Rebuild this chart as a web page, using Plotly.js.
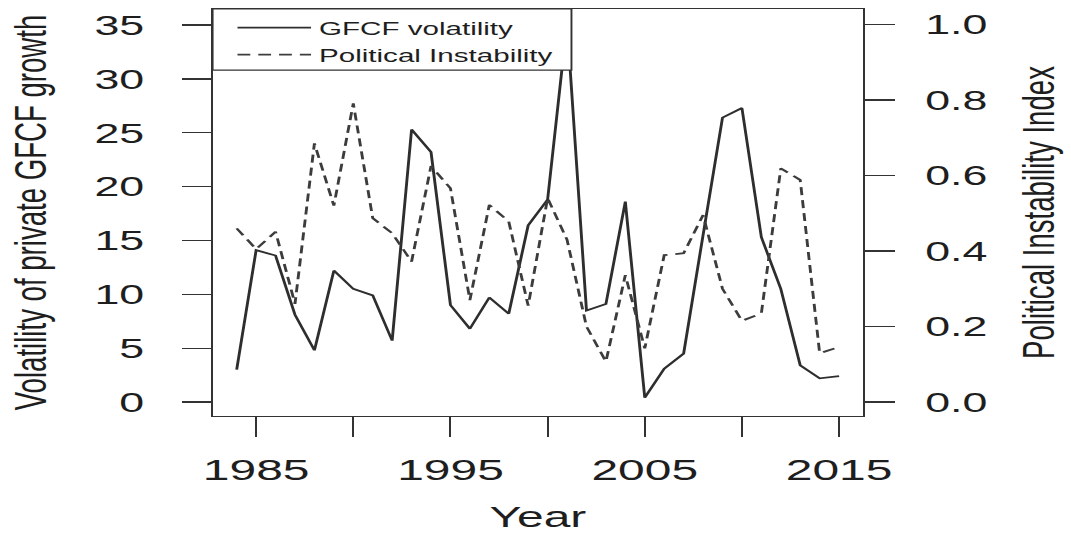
<!DOCTYPE html>
<html>
<head>
<meta charset="utf-8">
<script src="https://cdn.plot.ly/plotly-3.0.1.min.js"></script>
<style>
  html, body { margin: 0; padding: 0; background: #ffffff; }
  #wrap { width: 1071px; height: 538px; overflow: hidden; position: relative; }
  #plot { width: 670px; height: 538px; transform: scaleX(1.5985); transform-origin: 0 0; }
</style>
</head>
<body>
<div id="wrap"><div id="plot"></div></div>
<script>
// ---- data ----
const years = [1984, 1985, 1986, 1987, 1988, 1989, 1990, 1991, 1992, 1993, 1994, 1995,
               1996, 1997, 1998, 1999, 2000, 2001, 2002, 2003, 2004, 2005, 2006, 2007,
               2008, 2009, 2010, 2011, 2012, 2013, 2014, 2015];
const gfcfVolatility = [3.0, 14.1, 13.6, 8.1, 4.8, 12.2, 10.5, 9.9, 5.7, 25.3, 23.2, 9.0,
                        6.8, 9.7, 8.2, 16.4, 18.8, 35.2, 8.5, 9.1, 18.6, 0.4, 3.1, 4.5,
                        15.5, 26.4, 27.3, 15.3, 10.5, 3.4, 2.2, 2.4];
const politicalInstability = [0.46, 0.405, 0.451, 0.26, 0.685, 0.52, 0.791, 0.487, 0.447, 0.372, 0.625, 0.566,
                              0.27, 0.522, 0.478, 0.255, 0.54, 0.43, 0.2, 0.107, 0.336, 0.142, 0.389, 0.394,
                              0.495, 0.3, 0.215, 0.235, 0.619, 0.588, 0.129, 0.146];
const seriesNames = ["GFCF volatility", "Political Instability"];
const xTickVals = [1985, 1990, 1995, 2000, 2005, 2010, 2015];
const xTickText = ["1985", "", "1995", "", "2005", "", "2015"];
const yTickVals = [0, 5, 10, 15, 20, 25, 30, 35];
const y2TickVals = [0.0, 0.2, 0.4, 0.6, 0.8, 1.0];
const y2TickText = ["0.0", "0.2", "0.4", "0.6", "0.8", "1.0"];
const axisTitles = { x: "Year", y: "Volatility of private GFCF growth", y2: "Political Instability Index" };

// ---- chart ----
const FONT = "Liberation Sans, Arial, Helvetica, sans-serif";
const INK = "#1e1e1e";
const LINE = "#333333";

const traces = [
  {
    x: years, y: gfcfVolatility, name: seriesNames[0], type: "scatter", mode: "lines",
    line: { color: "#2e2e2e", width: 1.8 }, yaxis: "y"
  },
  {
    x: years, y: politicalInstability, name: seriesNames[1], type: "scatter", mode: "lines",
    line: { color: "#3c3c3c", width: 1.8, dash: "8px,5px" }, yaxis: "y2"
  }
];

const layout = {
  width: 670, height: 538,
  margin: { l: 133, r: 130, t: 9, b: 122, pad: 0 },
  paper_bgcolor: "#ffffff", plot_bgcolor: "#ffffff",
  font: { family: FONT, color: INK, size: 28 },
  showlegend: true,
  legend: {
    x: 0.026, xanchor: "left", y: 1.0, yanchor: "top",
    bgcolor: "rgba(0,0,0,0)", borderwidth: 0,
    font: { family: FONT, size: 18.5, color: INK },
    itemwidth: 46, tracegroupgap: 0
  },
  xaxis: {
    range: [1982.76, 2016.24], showgrid: false, zeroline: false,
    showline: true, mirror: true, linecolor: LINE, linewidth: 1.2,
    ticks: "outside", ticklen: 20, tickwidth: 1.2, tickcolor: LINE,
    tickmode: "array", tickvals: xTickVals, ticktext: xTickText,
    tickfont: { family: FONT, size: 30, color: INK },
    ticklabelstandoff: 7,
    title: { text: axisTitles.x, font: { family: FONT, size: 30, color: INK }, standoff: 20 }
  },
  yaxis: {
    range: [-1.3, 36.49], showgrid: false, zeroline: false,
    showline: true, mirror: true, linecolor: LINE, linewidth: 1.2,
    ticks: "outside", ticklen: 18, tickwidth: 1.2, tickcolor: LINE,
    tickmode: "array", tickvals: yTickVals,
    tickfont: { family: FONT, size: 28, color: INK },
    ticklabelstandoff: 18,
    title: { text: axisTitles.y, font: { family: FONT, size: 27.6, color: INK }, standoff: 21 }
  },
  yaxis2: {
    overlaying: "y", side: "right",
    range: [-0.0371, 1.041], showgrid: false, zeroline: false,
    showline: true, linecolor: LINE, linewidth: 1.2,
    ticks: "outside", ticklen: 19, tickwidth: 1.2, tickcolor: LINE,
    tickmode: "array", tickvals: y2TickVals, ticktext: y2TickText,
    tickfont: { family: FONT, size: 28, color: INK },
    ticklabelstandoff: 13,
    title: { text: axisTitles.y2, font: { family: FONT, size: 27.6, color: INK }, standoff: 23 }
  },
  shapes: [
    {
      type: "rect", xref: "paper", yref: "paper",
      x0: 0, x1: 0.5516, y0: 0.85, y1: 1,
      fillcolor: "#ffffff", line: { color: LINE, width: 1.2 }, layer: "above"
    }
  ]
};

Plotly.newPlot("plot", traces, layout, { staticPlot: true, displayModeBar: false, responsive: false });
</script>
</body>
</html>
